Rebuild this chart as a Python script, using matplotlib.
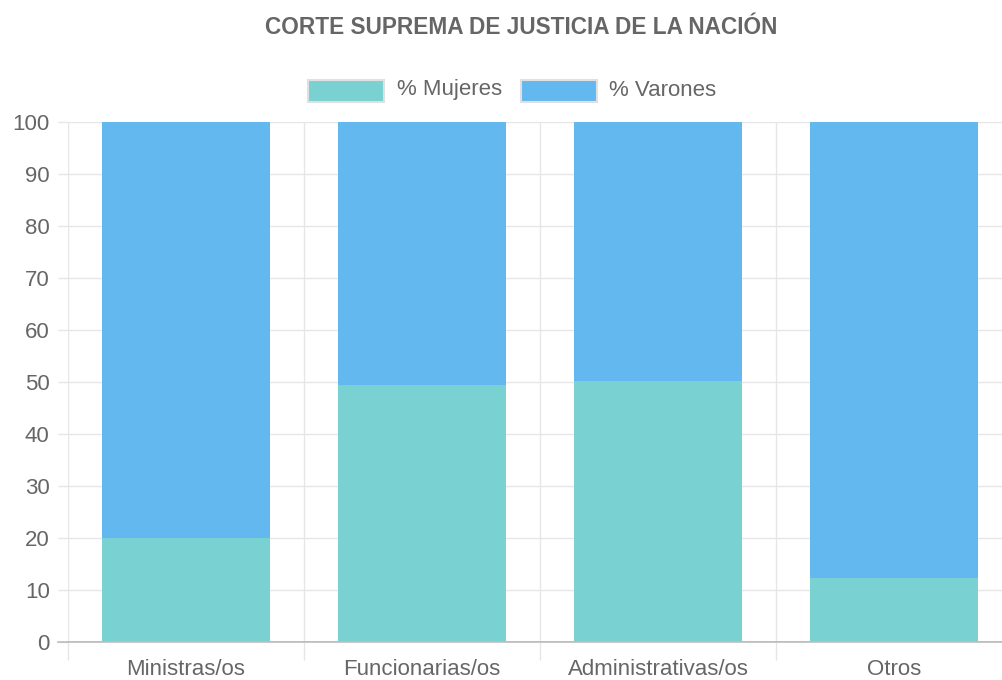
import matplotlib
matplotlib.use("Agg")
import matplotlib.pyplot as plt
from matplotlib.patches import Rectangle

categories = ["Ministras/os", "Funcionarias/os", "Administrativas/os", "Otros"]
mujeres = [20.0, 49.5, 50.2, 12.4]
varones = [80.0, 50.5, 49.8, 87.6]
series_names = ["% Mujeres", "% Varones"]
title = "CORTE SUPREMA DE JUSTICIA DE LA NACIÓN"

c_muj = "#79d2d1"
c_var = "#64b8f0"
grid_c = "#e6e6e6"
txt_c = "#666666"

plt.rcParams['font.family'] = ['Liberation Sans', 'DejaVu Sans']

W, H = 1002, 680
fig = plt.figure(figsize=(W/100, H/100), dpi=100)
ax = fig.add_axes([68/W, 1-642/H, (1012-68)/W, (642-122)/H])

x = list(range(len(categories)))
ax.bar(x, mujeres, width=0.716, color=c_muj, zorder=3)
ax.bar(x, varones, width=0.716, bottom=mujeres, color=c_var, zorder=3)

ax.set_xlim(-0.5, len(categories) - 0.5)
ax.set_ylim(0, 100)
ax.set_yticks(range(0, 101, 10))
ax.set_xticks(x)
ax.set_xticklabels(categories)
ax.set_xticks([i - 0.5 for i in x], minor=True)

for s in ["top", "right", "left"]:
    ax.spines[s].set_visible(False)
ax.spines["bottom"].set_color("#bdbdbd")
ax.spines["bottom"].set_linewidth(1.2)
ax.spines["bottom"].set_zorder(4)

ax.grid(axis="y", color=grid_c, linewidth=1, zorder=0)
ax.grid(axis="x", which="minor", color=grid_c, linewidth=1, zorder=0)
ax.tick_params(axis="y", length=7.2, width=1, color=grid_c, pad=6, labelsize=16, labelcolor=txt_c)
ax.tick_params(axis="x", which="major", length=0, pad=12, labelsize=16, labelcolor=txt_c)
ax.tick_params(axis="x", which="minor", length=13, width=1, color=grid_c)
ax.axhline(0, color="#bdbdbd", linewidth=1.2, zorder=4)
ax.plot([-0.5 - 10/236, -0.5], [0, 0], color="#bdbdbd", lw=1.2, clip_on=False, zorder=4)

fig.text(521/W, 1-28/H, title, ha="center", va="center", fontsize=16.3,
         fontweight="bold", color=txt_c)

# legend
for (x0, lx, name, col) in [(308, 397, series_names[0], c_muj), (521, 609, series_names[1], c_var)]:
    fig.add_artist(Rectangle((x0/W, 1-102/H), 76/W, 22/H, transform=fig.transFigure,
                             facecolor=col, edgecolor="#e0e0e0", linewidth=1.5))
    fig.text(lx/W, 1-90/H, name, ha="left", va="center", fontsize=16, color=txt_c)

fig.savefig("out.png", dpi=100)
